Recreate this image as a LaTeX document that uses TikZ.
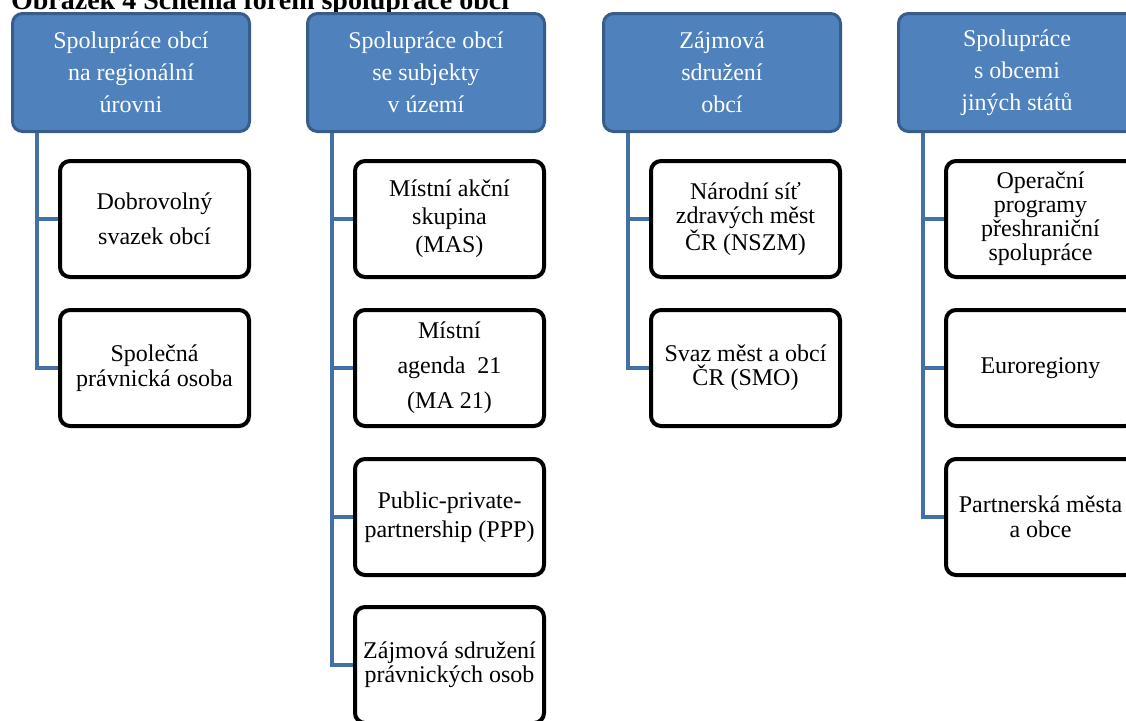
\documentclass[tikz,border=0pt]{standalone}
\usepackage{fontspec}
\setmainfont{Liberation Serif}
\usetikzlibrary{calc}
\definecolor{headblue}{HTML}{4F81BD}
\definecolor{headedge}{HTML}{385D8A}
\definecolor{linkblue}{HTML}{4470A6}

\begin{document}
\begin{tikzpicture}[x=0.5pt, y=-0.5pt,
  head/.style={draw=headedge, line width=1.5pt, fill=headblue, rounded corners=5pt,
    minimum width=118.5pt, minimum height=59pt, align=center, inner sep=0pt,
    text=white, font={\fontsize{12}{16}\selectfont}},
  item/.style={draw=black, line width=2pt, fill=white, rounded corners=5pt,
    minimum width=94.5pt, minimum height=58pt, align=center, inner sep=0pt,
    font={\fontsize{12}{12.5}\selectfont}},
  wide/.style={font={\fontsize{12}{17.5}\selectfont}},
  link/.style={draw=linkblue, line width=2pt}]
\useasboundingbox (0,0) rectangle (1126,720);
\node[anchor=base west, font={\fontsize{14}{16}\bfseries}] (title) at (4,9.5) {Obrázek 4 Schéma forem spolupráce obcí};
%heads
\node[head] (h1) at (131,72.5) {Spolupráce obcí\\ na regionální\\ úrovni};
\node[head] (h2) at (426,72.5) {Spolupráce obcí\\ se subjekty\\ v území};
\node[head] (h3) at (722,72.5) {Zájmová\\ sdružení\\ obcí};
\node[head] (h4) at (1017,72.5) {Spolupráce\\ s obcemi\\ jiných států};
%regional level
\node[item, wide] (dso) at (154.5,219) {Dobrovolný\\ svazek obcí};
\node[item] (spo) at (154.5,368) {Společná\\ právnická osoba};
%subjects in the area
\node[item, font={\fontsize{12}{14}\selectfont}] (mas) at (449.5,219) {Místní akční\\ skupina\\ (MAS)};
\node[item, wide] (ma) at (449.5,368) {Místní\\ agenda~ 21\\ (MA 21)};
\node[item, font={\fontsize{12}{14.5}\selectfont}] (ppp) at (449.5,517) {Public-private-\\ partnership (PPP)};
\node[item, font={\fontsize{12}{12}\selectfont}] (zspo) at (449.5,665) {Zájmová sdružení\\ právnických osob};
%associations
\node[item, font={\fontsize{12}{12}\selectfont}] (nszm) at (745.5,219) {Národní síť\\ zdravých měst\\ ČR (NSZM)};
\node[item, font={\fontsize{12}{12}\selectfont}] (smo) at (745.5,368) {Svaz měst a obcí\\ ČR (SMO)};
%other states
\node[item, font={\fontsize{12}{12}\selectfont}] (op) at (1040.5,219) {Operační\\ programy\\ přeshraniční\\ spolupráce};
\node[item] (eur) at (1040.5,368) {Euroregiony};
\node[item] (pm) at (1040.5,517) {Partnerská města\\ a obce};
%links
\foreach \h/\c in {h1/dso, h1/spo, h2/mas, h2/ma, h2/ppp, h2/zspo, h3/nszm, h3/smo, h4/op, h4/eur, h4/pm}
  \draw[link] ($(\h.south west)+(26,0)$) |- (\c.west);
\end{tikzpicture}
\end{document}
